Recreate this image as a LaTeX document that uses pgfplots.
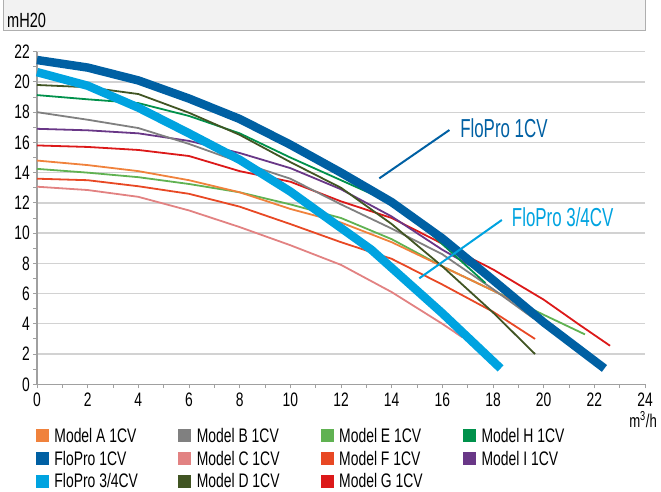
\documentclass[border=0pt]{standalone}
\usepackage{fontspec}
\setmainfont{Liberation Sans}[FakeStretch=0.71]
\newfontfamily\annofont{Liberation Sans}[FakeStretch=0.65]
\usepackage{pgfplots}
\pgfplotsset{compat=1.18}
\definecolor{cFPone}{RGB}{0,96,163}
\definecolor{cFPtq}{RGB}{0,163,224}
\definecolor{cA}{RGB}{240,130,60}
\definecolor{cB}{RGB}{128,128,128}
\definecolor{cE}{RGB}{96,178,82}
\definecolor{cH}{RGB}{0,145,75}
\definecolor{cC}{RGB}{226,130,130}
\definecolor{cF}{RGB}{232,72,36}
\definecolor{cI}{RGB}{105,55,135}
\definecolor{cD}{RGB}{65,85,35}
\definecolor{cG}{RGB}{220,25,25}
\definecolor{axisgrey}{RGB}{160,160,160}
\definecolor{gridgrey}{RGB}{210,210,210}
\definecolor{boxfill}{RGB}{242,242,242}
\definecolor{boxline}{RGB}{175,175,175}
\newcommand{\legtxt}[1]{\makebox[124pt][l]{#1}}
\begin{document}
\begin{tikzpicture}
\useasboundingbox (0pt,0pt) rectangle (661pt,491pt);
\fill[boxfill] (3.5pt,460.3pt) rectangle (645.5pt,495pt);
\draw[boxline, line width=1pt] (3.5pt,495pt) -- (3.5pt,460.3pt) -- (645.5pt,460.3pt) -- (645.5pt,495pt);
\node[anchor=base west, inner sep=0pt, font=\fontsize{20.5}{22}\selectfont] at (7pt,463pt) {mH20};
\node[anchor=base east, inner sep=0pt, font=\fontsize{18.5}{19}\selectfont] at (657pt,64pt) {m\textsuperscript{3}/h};
\begin{axis}[
  at={(37pt,106.7pt)}, anchor=south west,
  scale only axis, width=608pt, height=332.6pt,
  xmin=0, xmax=24, ymin=0, ymax=22,
  axis x line*=bottom, axis y line*=left,
  axis line style={draw=axisgrey, line width=1.2pt},
  xtick={0,2,...,24}, ytick={0,2,...,22},
  minor xtick={1,3,...,23}, minor ytick={1,3,...,21},
  tick align=outside, major tick length=4pt, minor tick length=3.5pt,
  tick style={draw=axisgrey, line width=1pt},
  ymajorgrids, major grid style={draw=gridgrey, line width=1.3pt},
  tick label style={font=\fontsize{19.5}{20}\selectfont, text=black},
  /pgf/number format/assume math mode=true,
  xticklabel style={inner sep=0pt, yshift=-4.5pt},
  yticklabel style={inner sep=0pt, xshift=-3pt},
  clip=false,
  legend columns=4,
  legend style={at={(-0.0016,-0.1323)}, anchor=north west, draw=none, fill=none,
    inner sep=0pt, outer sep=0pt, row sep=8.7pt, cells={anchor=west},
    nodes={inner sep=0pt, text height=14pt, text depth=0pt,
      font=\fontsize{19.6}{20}\selectfont},
    /tikz/every odd column/.append style={column sep=6pt}},
  legend image code/.code={\fill[#1] (0pt,-6pt) rectangle (12pt,6pt);},
]
\addlegendimage{color=cA}\addlegendentry{\legtxt{Model A 1CV}}
\addlegendimage{color=cB}\addlegendentry{\legtxt{Model B 1CV}}
\addlegendimage{color=cE}\addlegendentry{\legtxt{Model E 1CV}}
\addlegendimage{color=cH}\addlegendentry{\legtxt{Model H 1CV}}
\addlegendimage{color=cFPone}\addlegendentry{\legtxt{FloPro 1CV}}
\addlegendimage{color=cC}\addlegendentry{\legtxt{Model C 1CV}}
\addlegendimage{color=cF}\addlegendentry{\legtxt{Model F 1CV}}
\addlegendimage{color=cI}\addlegendentry{\legtxt{Model I 1CV}}
\addlegendimage{color=cFPtq}\addlegendentry{\legtxt{FloPro 3/4CV}}
\addlegendimage{color=cD}\addlegendentry{\legtxt{Model D 1CV}}
\addlegendimage{color=cG}\addlegendentry{\legtxt{Model G 1CV}}

% Model C
\addplot[cC, line width=1.8pt, line join=round, forget plot] coordinates {
(0,13.07) (2,12.85) (4,12.4) (6,11.5) (8,10.4) (10,9.2) (12,7.9) (14,6.1) (16,4.0) (16.8,3.1)};
% Model F
\addplot[cF, line width=1.8pt, line join=round, forget plot] coordinates {
(0,13.6) (2,13.5) (4,13.1) (6,12.6) (8,11.75) (10,10.6) (12,9.4) (14,8.3) (16,6.6) (18,4.8) (19.66,3.0)};
% Model E
\addplot[cE, line width=1.8pt, line join=round, forget plot] coordinates {
(0,14.25) (2,14.0) (4,13.7) (6,13.25) (8,12.7) (10,11.9) (12,11.0) (14,9.6) (16,7.8) (18,6.2) (20,4.6) (21.63,3.3)};
% Model A
\addplot[cA, line width=1.8pt, line join=round, forget plot] coordinates {
(0,14.8) (2,14.5) (4,14.1) (6,13.5) (8,12.7) (10,11.6) (12,10.7) (14,9.4) (16,7.8) (18,6.2) (19.6,4.8)};
% Model G
\addplot[cG, line width=1.8pt, line join=round, forget plot] coordinates {
(0,15.8) (2,15.7) (4,15.5) (6,15.1) (8,14.1) (10,13.4) (12,12.1) (14,11.0) (16,9.3) (18,7.6) (20,5.6) (21.4,3.95) (22.62,2.55)};
% Model I
\addplot[cI, line width=1.8pt, line join=round, forget plot] coordinates {
(0,16.9) (2,16.8) (4,16.6) (6,16.1) (8,15.3) (10,14.3) (12,12.9) (14,11.1) (16,8.9) (18,7.0) (19.0,5.6)};
% Model B
\addplot[cB, line width=1.8pt, line join=round, forget plot] coordinates {
(0,18.0) (2,17.5) (4,16.95) (6,15.9) (8,14.7) (10,13.6) (12,11.9) (14,10.3) (16,8.6) (18,6.3) (19.6,4.36)};
% Model H
\addplot[cH, line width=1.8pt, line join=round, forget plot] coordinates {
(0,19.13) (2,18.85) (4,18.6) (6,17.75) (8,16.6) (10,15.0) (12,13.5) (14,12.0) (15.65,9.8) (17.7,6.7)};
% Model D
\addplot[cD, line width=1.8pt, line join=round, forget plot] coordinates {
(0,19.8) (2,19.65) (4,19.2) (6,17.96) (8,16.5) (10,14.7) (12,13.0) (14,10.6) (16,7.8) (18,4.75) (19.66,2.0)};
% FloPro 3/4CV
\addplot[cFPtq, line width=8.5pt, line join=round, forget plot] coordinates {
(0,20.65) (2,19.75) (4,18.3) (6,16.6) (8,14.85) (10,12.75) (11.2,11.3) (13.2,8.9) (16,4.7) (18.3,1.05)};
% FloPro 1CV
\addplot[cFPone, line width=8.5pt, line join=round, forget plot] coordinates {
(0,21.45) (2,20.95) (4,20.1) (6,18.9) (8,17.55) (10,15.85) (12,14.0) (14,12.05) (16,9.65) (18,6.9) (20,4.1) (22.4,1.05)};

\draw[cFPone, line width=2pt] (axis cs:16.28,16.82) -- (axis cs:13.51,13.62);
\draw[cFPtq, line width=2pt] (axis cs:18.35,10.87) -- (axis cs:15.09,7.01);
\node[anchor=base west, inner sep=0pt, text=cFPone, font=\annofont\fontsize{26}{28}\selectfont] at (axis cs:16.70,16.34) {FloPro 1CV};
\node[anchor=base west, inner sep=0pt, text=cFPtq, font=\annofont\fontsize{26}{28}\selectfont] at (axis cs:18.74,10.42) {FloPro 3/4CV};
\end{axis}
\end{tikzpicture}
\end{document}
